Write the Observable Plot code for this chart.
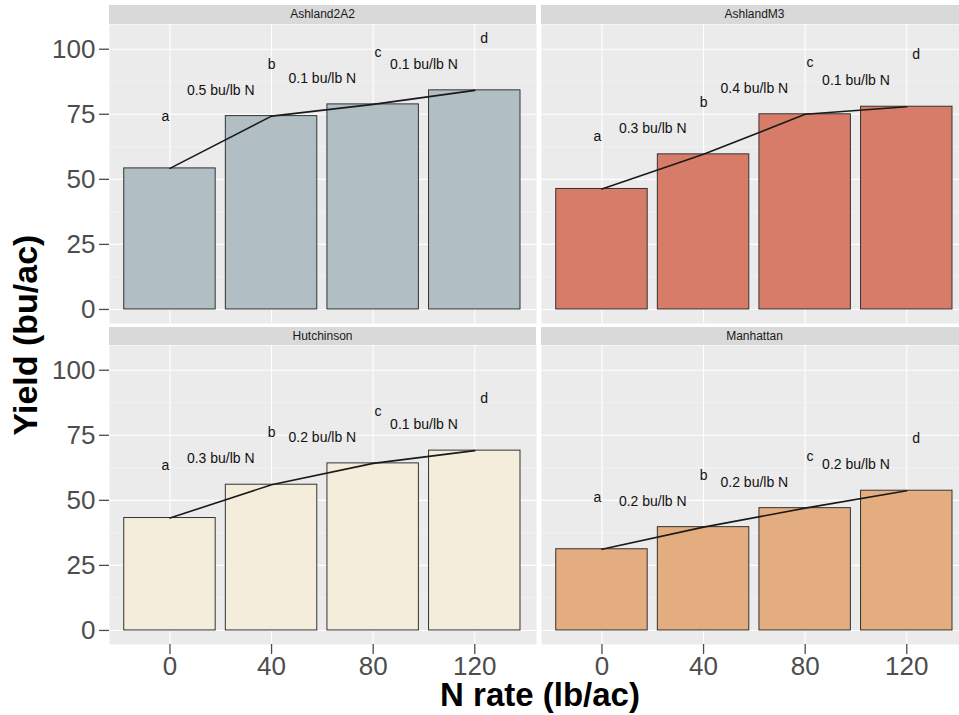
<!DOCTYPE html>
<html>
<head>
<meta charset="utf-8">
<script src="https://cdn.jsdelivr.net/npm/d3@7"></script>
<script src="https://cdn.jsdelivr.net/npm/@observablehq/plot@0.6"></script>
<style>
  html, body { margin: 0; padding: 0; background: #fff; overflow: hidden; }
  #chart { position: relative; width: 959px; height: 715px; overflow: hidden; background: #fff;
           font-family: "Liberation Sans", Arial, Helvetica, sans-serif; }
  .strip { position: absolute; background: #D9D9D9; color: #1A1A1A; font-size: 12px;
           display: flex; align-items: center; justify-content: center; }
  .panel { position: absolute; }
  .ytitle { position: absolute; left: 25px; top: 335px; transform: translate(-50%, -50%) rotate(-90deg);
            font-weight: bold; font-size: 34px; line-height: 1; color: #000; white-space: nowrap; }
  .xtitle { position: absolute; left: 540px; top: 694px; transform: translate(-50%, -50%);
            font-weight: bold; font-size: 33px; line-height: 1; color: #000; white-space: nowrap; }
</style>
</head>
<body>
<div id="chart"></div>
<script>
// ---- data ----
const sites = ["Ashland2A2", "AshlandM3", "Hutchinson", "Manhattan"];
const rates = [0, 40, 80, 120];
const yieldAshland2A2 = [54.2, 74.3, 78.8, 84.2];
const yieldAshlandM3 = [46.3, 59.6, 75.0, 77.9];
const yieldHutchinson = [43.2, 56.0, 64.2, 69.1];
const yieldManhattan = [31.2, 39.7, 47.0, 53.7];
const groupLetters = ["a", "b", "c", "d"];
const slopeAshland2A2 = ["0.5 bu/lb N", "0.1 bu/lb N", "0.1 bu/lb N"];
const slopeAshlandM3 = ["0.3 bu/lb N", "0.4 bu/lb N", "0.1 bu/lb N"];
const slopeHutchinson = ["0.3 bu/lb N", "0.2 bu/lb N", "0.1 bu/lb N"];
const slopeManhattan = ["0.2 bu/lb N", "0.2 bu/lb N", "0.2 bu/lb N"];
const siteColors = ["#B1BEC3", "#D87C6A", "#F4EDDC", "#E3AD80"];
const yTicks = [0, 25, 50, 75, 100];
const yMinorTicks = [12.5, 37.5, 62.5, 87.5];
const xTicks = [0, 40, 80, 120];

const yields = [yieldAshland2A2, yieldAshlandM3, yieldHutchinson, yieldManhattan];
const slopes = [slopeAshland2A2, slopeAshlandM3, slopeHutchinson, slopeManhattan];

// ---- layout ----
const FONT = '"Liberation Sans", Arial, Helvetica, sans-serif';
const PW = 427, PH = 299;
const colLeft = [109, 541];
const rowTop = [23.5, 345];
const stripTop = [5, 327];
const chart = document.getElementById("chart");

function panel(i) {
  const col = i % 2, row = Math.floor(i / 2);
  const isLeft = col === 0, isBottom = row === 1;
  const ml = isLeft ? 109 : 0;
  const mb = isBottom ? 50 : 0;
  const ys = yields[i];
  const bars = rates.map((r, j) => ({rate: r, y: ys[j], letter: groupLetters[j]}));
  const segs = slopes[i].map((t, j) => ({x: (rates[j] + rates[j + 1]) / 2, y: ys[j + 1], t}));
  const marks = [
    Plot.frame({fill: "#EBEBEB", stroke: null}),
    Plot.gridY(yMinorTicks, {stroke: "#F5F5F5", strokeOpacity: 1, strokeWidth: 0.7}),
    Plot.gridY(yTicks, {stroke: "#FFFFFF", strokeOpacity: 1, strokeWidth: 1.1}),
    Plot.gridX(xTicks, {stroke: "#FFFFFF", strokeOpacity: 1, strokeWidth: 1.1}),
    Plot.rectY(bars, {x1: d => d.rate - 18, x2: d => d.rate + 18, y1: 0, y2: "y",
                      fill: siteColors[i], stroke: "#333333", strokeWidth: 1}),
    Plot.line(bars, {x: "rate", y: "y", stroke: "#1A1A1A", strokeWidth: 1.6}),
    Plot.text(bars, {x: d => d.rate * 1.046 - 1.8, y: d => d.y + 20, text: "letter",
                     fontSize: 14, fill: "#111"}),
    Plot.text(segs, {x: "x", y: d => d.y + 10, text: "t", fontSize: 14, fill: "#111"})
  ];
  if (isLeft) marks.push(Plot.axisY(yTicks, {tickSize: 10, tickPadding: 4, fontSize: 26,
                                             color: "#4D4D4D", strokeWidth: 1.3, label: null}));
  if (isBottom) marks.push(Plot.axisX(xTicks, {tickSize: 10, tickPadding: 2, fontSize: 26,
                                               color: "#4D4D4D", strokeWidth: 1.3, label: null}));
  const svg = Plot.plot({
    width: ml + PW, height: PH + mb,
    marginLeft: ml, marginRight: 0, marginTop: 0, marginBottom: mb,
    x: {domain: [-23.8, 144.3], axis: null},
    y: {domain: [-5.4, 109.5], axis: null},
    style: {fontFamily: FONT, background: "transparent", overflow: "visible"},
    marks
  });
  svg.classList.add("panel");
  svg.style.left = (colLeft[col] - ml) + "px";
  svg.style.top = rowTop[row] + "px";
  svg.style.maxWidth = "none";
  chart.appendChild(svg);

  const strip = document.createElement("div");
  strip.className = "strip";
  strip.textContent = sites[i];
  strip.style.left = colLeft[col] + "px";
  strip.style.width = PW + "px";
  strip.style.top = stripTop[row] + "px";
  strip.style.height = (rowTop[row] - stripTop[row]) + "px";
  chart.appendChild(strip);
}
sites.forEach((s, i) => panel(i));

const yt = document.createElement("div");
yt.className = "ytitle";
yt.textContent = "Yield (bu/ac)";
chart.appendChild(yt);
const xt = document.createElement("div");
xt.className = "xtitle";
xt.textContent = "N rate (lb/ac)";
chart.appendChild(xt);
</script>
</body>
</html>
